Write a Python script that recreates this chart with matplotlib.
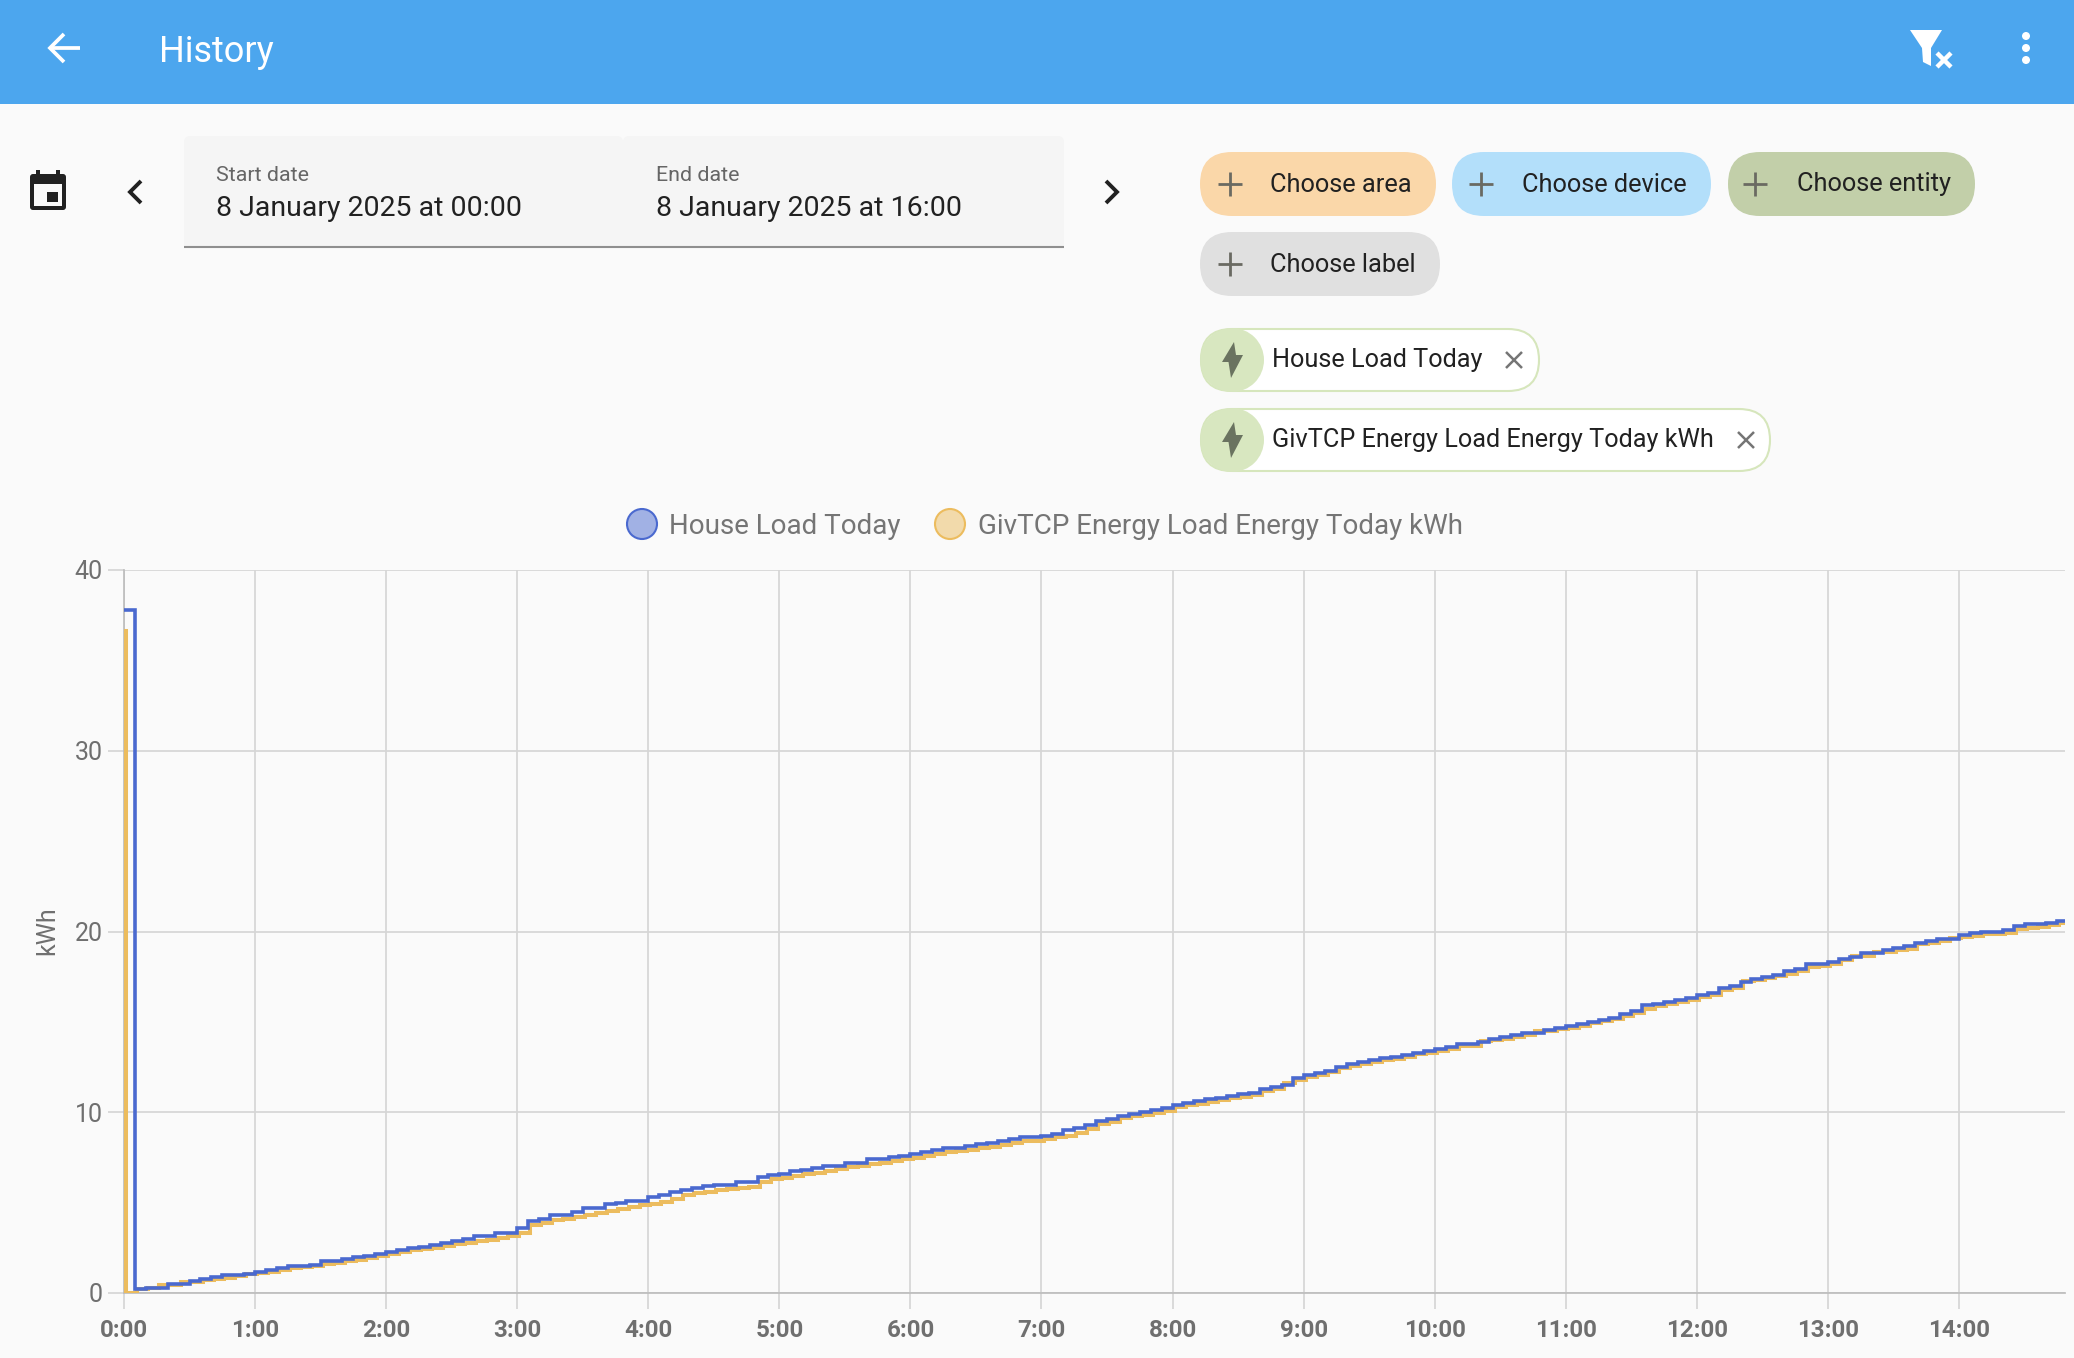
import matplotlib
matplotlib.use("Agg")
import matplotlib.pyplot as plt
from matplotlib.patches import FancyBboxPatch, Rectangle, Polygon, Circle

plt.rcParams['font.family'] = ['Roboto', 'DejaVu Sans']

W, H = 2074, 1358

# ---- data (kWh, one reading per 5 minutes from 0:00) ----
house_load = [
    37.8, 0.2, 0.3, 0.3, 0.5, 0.5, 0.68, 0.8, 0.87, 0.98, 0.98, 1.07,
    1.15, 1.28, 1.39, 1.48, 1.48, 1.55, 1.75, 1.75, 1.86, 1.97, 2.06, 2.15,
    2.26, 2.37, 2.47, 2.56, 2.67, 2.77, 2.87, 2.96, 3.14, 3.14, 3.34, 3.34,
    3.61, 3.98, 4.11, 4.30, 4.30, 4.48, 4.70, 4.70, 4.90, 5.00, 5.11, 5.11,
    5.29, 5.40, 5.61, 5.72, 5.79, 5.90, 5.99, 5.99, 6.12, 6.12, 6.40, 6.51,
    6.60, 6.73, 6.80, 6.92, 7.01, 7.01, 7.21, 7.21, 7.40, 7.40, 7.51, 7.60,
    7.69, 7.80, 7.89, 8.00, 8.00, 8.12, 8.23, 8.32, 8.41, 8.50, 8.61, 8.61,
    8.69, 8.80, 9.00, 9.11, 9.29, 9.50, 9.61, 9.79, 9.90, 10.01, 10.12, 10.22,
    10.38, 10.49, 10.61, 10.71, 10.81, 10.90, 10.99, 11.08, 11.29, 11.40, 11.51, 11.88,
    12.06, 12.17, 12.30, 12.49, 12.67, 12.78, 12.89, 12.98, 13.07, 13.18, 13.30, 13.41,
    13.48, 13.59, 13.79, 13.79, 13.90, 14.07, 14.18, 14.29, 14.40, 14.40, 14.57, 14.68,
    14.79, 14.90, 14.99, 15.09, 15.20, 15.42, 15.58, 15.92, 15.99, 16.10, 16.21, 16.30,
    16.49, 16.58, 16.87, 16.98, 17.22, 17.39, 17.50, 17.59, 17.80, 17.91, 18.20, 18.20,
    18.30, 18.48, 18.59, 18.79, 18.79, 18.98, 19.07, 19.20, 19.38, 19.49, 19.60, 19.60,
    19.79, 19.90, 19.99, 19.99, 20.10, 20.30, 20.40, 20.40, 20.49, 20.60, 20.60,
]
# first reading spans about one minute, the rest follow one minute after the blue grid
givtcp_spike = [36.6, 0.0]
givtcp_load = [
    0.2, 0.3, 0.42, 0.42, 0.6, 0.6, 0.7, 0.78, 0.85, 0.93, 1.05,
    1.12, 1.18, 1.27, 1.37, 1.42, 1.5, 1.61, 1.66, 1.75, 1.85, 1.92, 2.03,
    2.14, 2.25, 2.36, 2.43, 2.51, 2.6, 2.69, 2.77, 2.86, 2.95, 3.06, 3.15,
    3.30, 3.76, 3.89, 4.04, 4.10, 4.19, 4.33, 4.44, 4.54, 4.65, 4.74, 4.85,
    4.92, 5.05, 5.18, 5.42, 5.52, 5.60, 5.70, 5.75, 5.79, 5.88, 6.12, 6.31,
    6.38, 6.47, 6.57, 6.64, 6.77, 6.84, 6.95, 7.01, 7.14, 7.21, 7.30, 7.40,
    7.49, 7.60, 7.67, 7.78, 7.84, 7.91, 8.02, 8.10, 8.19, 8.28, 8.39, 8.43,
    8.52, 8.61, 8.69, 8.87, 9.09, 9.33, 9.44, 9.66, 9.77, 9.87, 9.98, 10.07,
    10.27, 10.38, 10.46, 10.57, 10.68, 10.77, 10.86, 10.97, 11.18, 11.29, 11.64, 11.78,
    11.97, 12.06, 12.25, 12.43, 12.58, 12.69, 12.78, 12.87, 12.96, 13.06, 13.20, 13.30,
    13.41, 13.50, 13.66, 13.66, 13.95, 13.98, 14.07, 14.18, 14.27, 14.51, 14.48, 14.61,
    14.68, 14.79, 14.92, 15.03, 15.14, 15.33, 15.47, 15.71, 15.88, 15.99, 16.10, 16.21,
    16.39, 16.47, 16.76, 16.86, 17.25, 17.30, 17.41, 17.55, 17.65, 17.81, 18.05, 18.09,
    18.20, 18.42, 18.64, 18.66, 18.88, 18.88, 18.98, 19.05, 19.29, 19.38, 19.50, 19.62,
    19.68, 19.77, 19.86, 19.86, 19.92, 20.12, 20.18, 20.27, 20.36, 20.45, 20.45,
]
hour_labels = ["0:00", "1:00", "2:00", "3:00", "4:00", "5:00", "6:00", "7:00",
               "8:00", "9:00", "10:00", "11:00", "12:00", "13:00", "14:00"]
y_ticks = [0, 10, 20, 30, 40]
series_names = ["House Load Today", "GivTCP Energy Load Energy Today kWh"]

BLUE = "#4a69cf"
ORANGE = "#ecbc5e"
GRID = "#d6d6d6"
AXIS = "#bdbdbd"
TXT = "#6f6f6f"
DARK = "#212121"

fig = plt.figure(figsize=(W / 100, H / 100), dpi=100, facecolor="#fafafa")

# ---- page furniture, drawn in pixel coordinates ----
ui = fig.add_axes([0, 0, 1, 1], zorder=0)
ui.set_xlim(0, W)
ui.set_ylim(H, 0)
ui.axis("off")


def pill(x0, y0, x1, y1, fc, ec="none", lw=0, r=None, z=2):
    r = (y1 - y0) / 2 if r is None else r
    ui.add_patch(FancyBboxPatch((x0, y0), x1 - x0, y1 - y0,
                                boxstyle=f"round,pad=0,rounding_size={r}",
                                fc=fc, ec=ec, lw=lw, zorder=z))


def segs(points, color, lw=2.0, z=5, cap="butt"):
    xs, ys = zip(*points)
    ui.plot(xs, ys, color=color, lw=lw, zorder=z, solid_capstyle=cap, solid_joinstyle="miter")


def label(x, y, s, size, color=DARK, ha="left", **kw):
    ui.text(x, y, s, fontsize=size, color=color, ha=ha, va="center_baseline", zorder=6, **kw)


# header
ui.add_patch(Rectangle((0, 0), W, 104, fc="#4ca6ee", ec="none", zorder=1))
label(159, 47.5, "History", 26, color="white")
segs([(51, 48), (80, 48)], "white", 2.7)
segs([(64, 34), (50, 48), (64, 62)], "white", 2.7)
ui.add_patch(Polygon([(1910, 30), (1942, 30), (1931, 48), (1931, 66), (1923, 62), (1922, 48)],
                     fc="white", ec="none", zorder=5))
segs([(1937, 53), (1951, 67)], "white", 3.2)
segs([(1951, 53), (1937, 67)], "white", 3.2)
for cy in (36, 48, 60):
    ui.add_patch(Circle((2026, cy), 4, fc="white", ec="none", zorder=5))

# calendar icon
ui.add_patch(FancyBboxPatch((30, 174), 36, 36, boxstyle="round,pad=0,rounding_size=3",
                            fc=DARK, ec="none", zorder=3))
ui.add_patch(Rectangle((34, 184), 28, 22, fc="#fafafa", ec="none", zorder=4))
ui.add_patch(Rectangle((47, 192), 11, 10, fc=DARK, ec="none", zorder=5))
ui.add_patch(Rectangle((36, 170), 3.5, 6, fc=DARK, ec="none", zorder=3))
ui.add_patch(Rectangle((56, 170), 3.5, 6, fc=DARK, ec="none", zorder=3))

# chevrons
segs([(141, 181), (130, 192), (141, 203)], DARK, 2.8)
segs([(1106, 181), (1117, 192), (1106, 203)], DARK, 2.8)

# date fields: one grey block with a small notch between the two rounded tops
for x0, x1 in ((184, 623), (623, 1064)):
    pill(x0, 136, x1, 260, "#f5f5f5", r=6, z=1)
ui.add_patch(Rectangle((184, 142), 880, 105, fc="#f5f5f5", ec="none", zorder=1.2))
ui.add_patch(Rectangle((180, 247), 890, 30, fc="#fafafa", ec="none", zorder=1.5))
segs([(184, 247), (1064, 247)], "#8f8f8f", 1.5)
label(216, 173.5, "Start date", 15.4, color="#666666")
label(656, 173.5, "End date", 15.4, color="#666666")
label(216, 205, "8 January 2025 at 00:00", 20.5)
label(656, 205, "8 January 2025 at 16:00", 20.5)

# filter chips
chips = [(1200, 152, 1436, 216, "#fad7a9", "Choose area", 1230, 1270),
         (1452, 152, 1711, 216, "#b3dffa", "Choose device", 1481, 1522),
         (1728, 152, 1975, 216, "#c2cfa9", "Choose entity", 1755, 1797),
         (1200, 232, 1440, 296, "#e0e0e0", "Choose label", 1230, 1270)]
for x0, y0, x1, y1, fc, txt, px, tx in chips:
    pill(x0, y0, x1, y1, fc)
    cy = (y0 + y1) / 2
    segs([(px - 12, cy), (px + 12, cy)], "#6a6a62", 2.0)
    segs([(px, cy - 12), (px, cy + 12)], "#6a6a62", 2.0)
    label(tx, cy - 2, txt, 18.3)

# entity chips
entities = [(328, 392, 1539, 1514), (408, 472, 1770, 1746)]
for (y0, y1, x1, xm), name in zip(entities, series_names):
    cy = (y0 + y1) / 2
    pill(1201, y0 + 1, x1, y1 - 1, "white", ec="#d6e6bc", lw=1.5, r=31)
    ui.add_patch(Circle((1232, cy), 32, fc="#d8e7c0", ec="none", zorder=3))
    ui.add_patch(Polygon([(1234, cy - 18), (1222, cy + 2), (1228.5, cy + 2), (1231, cy + 18),
                          (1243, cy - 5), (1236, cy - 5)], fc="#6a7360", ec="none", zorder=4))
    label(1272, cy - 2, name, 18.2)
    segs([(xm - 8, cy - 8), (xm + 8, cy + 8)], "#757575", 1.8)
    segs([(xm + 8, cy - 8), (xm - 8, cy + 8)], "#757575", 1.8)

# legend
for cx, col, tx, name in ((642, BLUE, 669, series_names[0]), (950, ORANGE, 977.5, series_names[1])):
    ui.add_patch(Circle((cx, 524), 15, fc=col, ec="none", alpha=0.5, zorder=3))
    ui.add_patch(Circle((cx, 524), 15, fc="none", ec=col, lw=1.5, zorder=4))
    label(tx, 524, name, 20.0, color="#757575")

# ---- chart ----
x_left, x_right, y_top, y_bottom = 124, 2065, 570, 1293
ax = fig.add_axes([x_left / W, 1 - y_bottom / H, (x_right - x_left) / W, (y_bottom - y_top) / H], zorder=1)
ax.patch.set_alpha(0)
px_per_hour = 131.07
ax.set_xlim(0, (x_right - x_left) / px_per_hour)
ax.set_ylim(0, 40)

blue_hours = [i * 5 / 60 for i in range(len(house_load))]
orange_values = givtcp_spike + givtcp_load
orange_hours = [0, 1 / 60] + [(5 * (i + 1) + 1) / 60 for i in range(len(givtcp_load))]
blue_hours[-1] = 14.9
orange_hours[-1] = 14.9

ax.step(orange_hours, orange_values, where="post", color=ORANGE, lw=2.9, zorder=3, solid_joinstyle="miter")
ax.step(blue_hours, house_load, where="post", color=BLUE, lw=2.6, zorder=4, solid_joinstyle="miter")

ax.set_xticks(range(len(hour_labels)))
ax.set_xticklabels(hour_labels, fontsize=17.4, color=TXT, fontweight="bold")
ax.set_yticks(y_ticks)
ax.set_yticklabels([str(v) for v in y_ticks], fontsize=18, color=TXT)
ax.grid(True, color=GRID, lw=1.25, zorder=1)
ax.set_axisbelow(True)
ax.tick_params(axis="x", length=11.5, width=1.25, color=GRID, pad=7)
ax.tick_params(axis="y", length=11.5, width=1.25, color=GRID, pad=4)
for s in ("top", "right"):
    ax.spines[s].set_visible(False)
for s in ("left", "bottom"):
    ax.spines[s].set_color(AXIS)
    ax.spines[s].set_linewidth(1.25)
ui.text(47, 931, "kWh", rotation=90, fontsize=18, color=TXT, ha="center", va="center", zorder=6)

fig.savefig("out.png", dpi=100, facecolor=fig.get_facecolor())
